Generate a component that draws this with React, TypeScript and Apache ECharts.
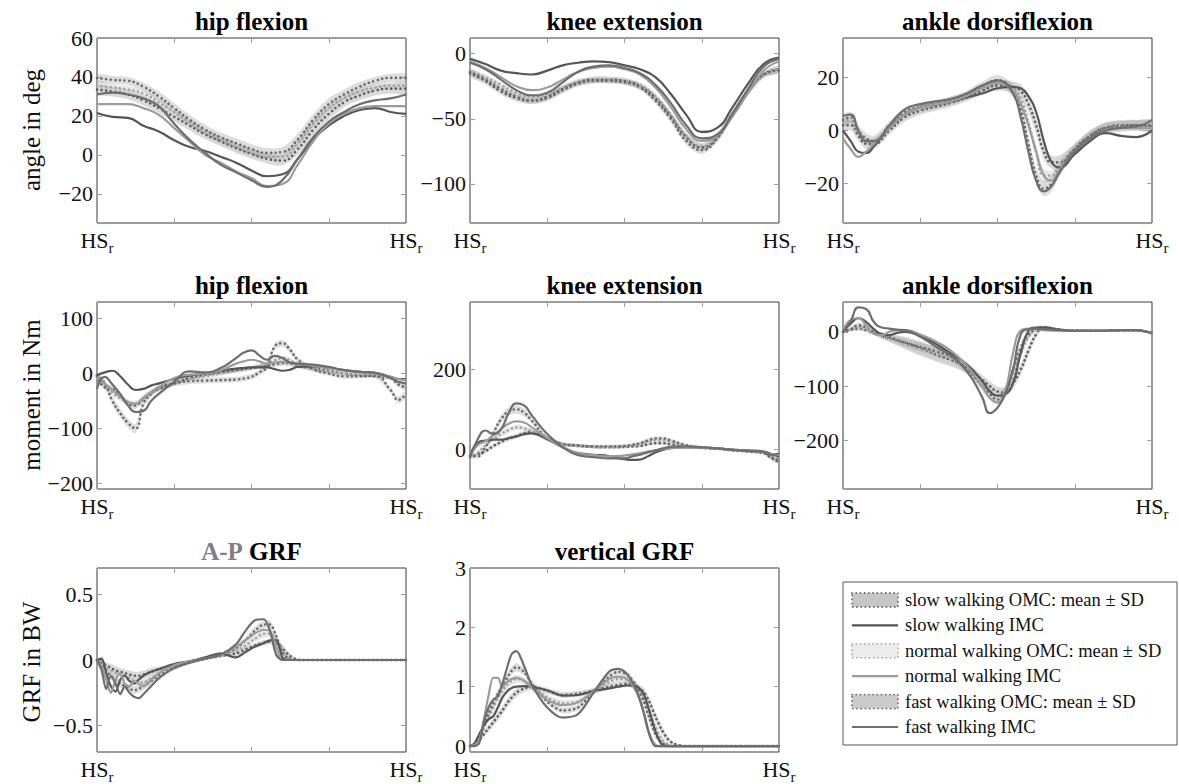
import React, { useEffect, useRef } from 'react';
import * as echarts from 'echarts';

// ---------- x grids (percent of gait cycle, HS_r to HS_r) ----------
const X_ANG = [0, 5, 10, 15, 20, 25, 30, 35, 40, 45, 50, 55, 60, 65, 70, 75, 80, 85, 90, 95, 100];
const X_ANK = [0, 2.5, 5, 7.5, 10, 15, 20, 25, 30, 35, 40, 45, 50, 55, 57.5, 60, 62.5, 65, 67.5, 70, 75, 80, 85, 90, 95, 100];
const X_MOM = [0, 2.5, 5, 7.5, 10, 12.5, 15, 17.5, 20, 25, 30, 35, 40, 45, 47.5, 50, 52.5, 55, 57.5, 60, 62.5, 65, 70, 75, 80, 85, 90, 95, 97.5, 100];
const X_GRF = [0, 1.5, 3, 4.5, 6, 7.5, 9, 10.5, 12, 13.5, 15, 17.5, 20, 25, 30, 35, 40, 45, 48, 51, 54, 56, 58, 60, 62, 64, 66, 70, 80, 90, 100];

const X_TICKS = [0, 25, 50, 75, 100];
const X_END_LABEL = ['HS', 'r'];

const TITLES = ['hip flexion', 'knee extension', 'ankle dorsiflexion', 'hip flexion', 'knee extension', 'ankle dorsiflexion', 'A-P GRF', 'vertical GRF'];
const ROW_NAMES = ['angle in deg', 'moment in Nm', 'GRF in BW'];
const LEGEND_LABELS = [
  'slow walking OMC: mean \u00b1 SD',
  'slow walking IMC',
  'normal walking OMC: mean \u00b1 SD',
  'normal walking IMC',
  'fast walking OMC: mean \u00b1 SD',
  'fast walking IMC',
];

// ---------- y ticks ----------
const Y_TICKS_HIP_ANG = [-20, 0, 20, 40, 60];
const Y_TICKS_KNEE_ANG = [-100, -50, 0];
const Y_TICKS_ANK_ANG = [-20, 0, 20];
const Y_TICKS_HIP_MOM = [-200, -100, 0, 100];
const Y_TICKS_KNEE_MOM = [0, 200];
const Y_TICKS_ANK_MOM = [-200, -100, 0];
const Y_TICKS_AP = [-0.5, 0, 0.5];
const Y_TICKS_VERT = [0, 1, 2, 3];

// ---------- hip flexion angle ----------
const hipAngSlowOMC = [33.5, 32.5, 31, 28, 24, 19.5, 15, 10.5, 7, 3.5, 0.5, -2, -3, 3, 13, 21, 27, 30.5, 33, 34, 34];
const hipAngNormOMC = [35.5, 34.5, 33.5, 31.5, 27, 22, 16.5, 11.5, 7.5, 4, 1, -1, -1, 6, 16, 24, 29, 32.5, 34.5, 35.5, 35.5];
const hipAngFastOMC = [39.5, 38.5, 38, 35, 30, 24, 18, 13, 9, 6, 3, 1, 1.5, 8, 18, 26, 31, 35, 38, 39.5, 39.5];
const hipAngSlowSD = [2.5, 2.5, 2.5, 2.5, 2.5, 2.5, 2.5, 2.5, 2.5, 2.5, 2.5, 2.5, 2.5, 3, 3, 3, 2.5, 2.5, 2.5, 2.5, 2.5];
const hipAngNormSD = [2, 2, 2, 2, 2, 2, 2, 2, 2, 2, 2, 2, 2, 2.5, 2.5, 2.5, 2, 2, 2, 2, 2];
const hipAngFastSD = [2, 2, 2, 2, 2.5, 2.5, 2.5, 2.5, 2.5, 2.5, 2.5, 2.5, 2.5, 3, 3, 3, 2.5, 2.5, 2, 2, 2];
const hipAngSlowIMC = [21.5, 19.5, 19, 15, 12, 7.5, 4, 2, -1, -4, -8, -11, -10, -2, 8, 15, 20, 23, 24, 22, 21];
const hipAngNormIMC = [26, 26, 26, 24, 20.5, 13.7, 6.8, 0, -4, -8.5, -12, -16, -15, -5, 7, 16, 21, 24, 25, 25, 25];
const hipAngFastIMC = [31, 32, 31, 29, 25, 16, 7.7, 1, -5, -9, -13, -16.5, -13, -2, 9, 17, 22, 26, 28, 29, 31];

// ---------- knee extension angle ----------
const kneeAngSlowOMC = [-15, -21, -29, -34, -36, -33, -27, -22, -20, -20, -21, -25, -34, -48, -64, -72, -64, -46, -29, -16, -12];
const kneeAngNormOMC = [-13, -18, -24, -30, -33, -31, -26, -22, -20, -20, -21, -24, -33, -47, -63, -71, -64, -47, -30, -17, -12];
const kneeAngFastOMC = [-14, -20, -27, -33, -36, -34, -28, -23, -21, -21, -22, -26, -36, -50, -67, -74, -65, -46, -29, -16, -13];
const kneeAngSlowSD = [2.5, 2.5, 2.5, 2.5, 2.5, 2.5, 2.5, 2.5, 2.5, 2.5, 2.5, 2.5, 3, 3, 3, 3, 3, 3, 2.5, 2.5, 2.5];
const kneeAngNormSD = [2, 2, 2, 2, 2, 2, 2, 2, 2, 2, 2, 2, 2.5, 2.5, 2.5, 2.5, 2.5, 2.5, 2, 2, 2];
const kneeAngFastSD = [2, 2, 2, 2.5, 2.5, 2.5, 2.5, 2, 2, 2, 2, 2, 2.5, 3, 3, 3, 3, 2.5, 2.5, 2, 2];
const kneeAngSlowIMC = [-4, -8, -13, -15, -16, -13, -9, -7, -6, -6.5, -9, -12, -18, -31, -47, -60, -57, -41, -23, -8, -3];
const kneeAngNormIMC = [-6, -11, -18, -25, -28, -26, -20, -14, -11, -10, -12, -16, -26, -41, -58, -67, -63, -48, -30, -13, -6];
const kneeAngFastIMC = [-7, -12, -20, -28, -32, -30, -22, -14, -10, -9, -11, -15, -24, -38, -55, -65, -62, -46, -27, -10, -4];

// ---------- ankle dorsiflexion angle ----------
const ankAngSlowOMC = [2, 2, -2, -5, -5, 0, 5, 7.5, 9, 10.5, 12.5, 15, 17, 16.5, 15, 10, 2, -8, -12, -12, -7, -2, 1, 2, 2, 1.5];
const ankAngNormOMC = [3, 3.5, -1, -4, -4.5, 1, 6, 8, 9.5, 11, 13, 16, 18, 16, 12, 3, -8, -17, -17, -13, -7, -2, 1, 2, 2, 2];
const ankAngFastOMC = [4, 5, 0, -3, -4, 2, 7, 9, 10, 11.5, 13.5, 16.5, 19, 15, 8, -5, -17, -22, -20, -15, -7, -2, 1, 1.5, 2, 2];
const ankAngSlowSD = [2, 2, 2, 2, 2, 1.5, 1.5, 1.5, 1.5, 1.5, 1.5, 1.5, 2, 2, 2.5, 3, 3, 3, 2.5, 2.5, 2, 2, 2, 2, 2, 2];
const ankAngNormSD = [1.5, 1.5, 1.5, 1.5, 1.5, 1.5, 1.5, 1.5, 1.5, 1.5, 1.5, 1.5, 1.5, 2, 2.5, 2.5, 2.5, 2.5, 2, 2, 1.5, 1.5, 1.5, 1.5, 1.5, 1.5];
const ankAngFastSD = [2, 2, 2, 2, 2, 1.5, 1.5, 1.5, 1.5, 1.5, 1.5, 2, 2, 2.5, 3, 3, 3, 3, 3, 2.5, 2, 2, 2, 2, 2, 2];
const ankAngSlowIMC = [0, -4, -8, -8.5, -6, 1, 6, 9, 10, 11, 12.5, 14, 16, 16.5, 16, 13, 7, -4, -12, -14, -9, -4, -1, -2, -2.5, 0];
const ankAngNormIMC = [-3, -7, -10, -8, -5, 1, 6, 9, 10, 11, 13, 16, 18, 15, 10, 2, -8, -17, -19, -15, -8, -3, 0, 1, 1, 1];
const ankAngFastIMC = [5.5, 6, 0, -4, -4, 2, 8, 10, 11, 12, 14, 17, 19, 14, 5, -8, -19, -23, -21, -16, -8, -3, 0, 1, 1.5, 4];

// ---------- hip flexion moment ----------
const hipMomSlowOMC = [-5, -25, -28, -40, -55, -58, -45, -35, -28, -18, -8, -2, 2, 6, 8, 10, 12, 14, 17, 19, 18, 14, 9, 5, 0, -3, -5, -8, -20, -25];
const hipMomNormOMC = [-2, -20, -35, -45, -52, -55, -45, -35, -28, -18, -10, -5, 0, 5, 7, 10, 14, 18, 24, 28, 24, 15, 8, 3, 0, -2, -3, -8, -15, -18];
const hipMomFastOMC = [-3, -18, -50, -72, -90, -100, -55, -37, -25, -18, -14, -13, -12, -11, -9, -6, 2, 12, 49, 55, 43, 25, 8, 0, -5, -5, -4, -30, -48, -37];
const hipMomSlowSD = [4, 5, 6, 6, 6, 6, 6, 5, 5, 4, 4, 4, 4, 4, 4, 4, 4, 4, 5, 5, 5, 4, 4, 3, 3, 3, 3, 4, 5, 5];
const hipMomNormSD = [4, 5, 5, 5, 5, 5, 5, 5, 4, 4, 4, 4, 4, 4, 4, 4, 4, 5, 5, 5, 5, 4, 4, 3, 3, 3, 3, 4, 4, 4];
const hipMomFastSD = [5, 6, 8, 8, 8, 8, 8, 6, 5, 5, 5, 5, 5, 5, 5, 5, 5, 6, 6, 6, 6, 5, 5, 4, 4, 4, 4, 5, 6, 6];
const hipMomSlowIMC = [-3, 2, 5, -5, -20, -30, -28, -22, -18, -10, -4, 0, 5, 9, 10, 11, 11, 11, 8, 5, 7, 12, 13, 10, 6, 3, 1, -6, -10, -10];
const hipMomNormIMC = [-6, -18, -30, -42, -52, -55, -45, -35, -25, -8, -2, 0, 6, 18, 22, 25, 22, 18, 20, 21, 19, 18, 14, 10, 6, 3, 0, -6, -10, -12];
const hipMomFastIMC = [-28, -6, -20, -37, -58, -70, -68, -50, -37, -15, 4, 2, 10, 28, 38, 42, 33, 25, 32, 28, 20, 18, 16, 12, 6, 3, 1, -8, -15, -18];

// ---------- knee extension moment ----------
const kneeMomSlowOMC = [-20, -12, -5, 8, 18, 27, 33, 40, 43, 28, 13, 9, 6, 5, 5, 6, 7, 8, 12, 15, 15, 12, 6, 3, 1, -3, -6, -10, -22, -32];
const kneeMomNormOMC = [-18, -8, 10, 25, 38, 48, 55, 52, 45, 25, 12, 8, 6, 6, 7, 8, 10, 12, 18, 22, 22, 18, 8, 4, 2, -2, -5, -8, -15, -20];
const kneeMomFastOMC = [-15, -18, 5, 40, 75, 95, 100, 92, 72, 28, 13, 9, 7, 7, 7, 8, 11, 15, 22, 27, 27, 22, 10, 5, 2, -2, -5, -8, -20, -28];
const kneeMomSlowSD = [4, 4, 5, 6, 6, 6, 6, 6, 6, 5, 4, 4, 4, 4, 4, 4, 4, 4, 4, 4, 4, 4, 3, 3, 3, 3, 3, 4, 5, 5];
const kneeMomNormSD = [4, 4, 5, 6, 7, 7, 7, 7, 6, 5, 4, 4, 4, 4, 4, 4, 4, 5, 5, 5, 5, 5, 4, 3, 3, 3, 3, 4, 5, 5];
const kneeMomFastSD = [5, 5, 6, 8, 10, 10, 10, 10, 8, 6, 5, 4, 4, 4, 4, 4, 4, 5, 5, 5, 5, 5, 4, 3, 3, 3, 3, 4, 5, 6];
const kneeMomSlowIMC = [-18, 15, 22, 24, 24, 28, 32, 38, 40, 25, 5, -10, -14, -17, -22, -25, -27, -26, -18, -8, -2, 3, 5, 4, 2, -1, -3, -6, -12, -18];
const kneeMomNormIMC = [-15, 10, 20, 35, 50, 64, 70, 67, 55, 28, 5, -10, -15, -18, -17, -16, -13, -10, -6, -3, 0, 2, 4, 4, 2, -2, -4, -8, -12, -14];
const kneeMomFastIMC = [-20, 25, 47, 38, 50, 90, 115, 110, 85, 38, 5, -15, -20, -23, -23, -23, -18, -14, -8, -3, 2, 6, 7, 5, 2, -2, -4, -7, -14, -10];

// ---------- ankle dorsiflexion moment ----------
const ankMomSlowOMC = [0, 4, 6, 3, -2, -8, -12, -16, -20, -30, -42, -52, -66, -88, -100, -110, -112, -95, -70, -35, -5, 8, 4, 2, 2, 2, 3, 3, 1, -2];
const ankMomNormOMC = [0, 5, 8, 5, -2, -8, -12, -16, -22, -32, -40, -50, -68, -95, -108, -118, -108, -80, -40, -10, 5, 8, 4, 2, 2, 2, 3, 3, 1, -2];
const ankMomFastOMC = [0, 5, 12, 8, 0, -5, -10, -15, -20, -28, -36, -46, -68, -100, -115, -125, -110, -70, -30, -5, 5, 8, 4, 2, 2, 2, 3, 3, 1, -2];
const ankMomSlowSD = [2, 3, 4, 4, 4, 5, 7, 9, 11, 13, 13, 12, 10, 9, 9, 9, 9, 10, 10, 10, 6, 3, 2, 2, 2, 2, 2, 2, 2, 2];
const ankMomNormSD = [2, 3, 4, 4, 4, 5, 7, 9, 10, 12, 12, 12, 10, 9, 9, 9, 9, 10, 10, 8, 5, 3, 2, 2, 2, 2, 2, 2, 2, 2];
const ankMomFastSD = [2, 4, 5, 5, 4, 4, 5, 6, 7, 8, 9, 9, 9, 9, 9, 9, 9, 9, 8, 6, 4, 3, 2, 2, 2, 2, 2, 2, 2, 2];
const ankMomSlowIMC = [0, 15, 25, 18, 5, -4, -6, -2, 0, -8, -22, -40, -60, -90, -110, -118, -115, -95, -40, 2, 8, 8, 4, 2, 2, 2, 3, 3, 1, -2];
const ankMomNormIMC = [0, 22, 25, 12, -4, -6, 0, 3, 3, -5, -18, -35, -62, -100, -122, -130, -110, -40, 2, 6, 5, 3, 2, 2, 2, 2, 3, 3, 1, -2];
const ankMomFastIMC = [0, 20, 45, 42, 18, 8, 6, 4, 3, -9, -27, -45, -72, -120, -150, -140, -115, -70, -5, 5, 6, 5, 3, 2, 2, 2, 3, 3, 1, -3];

// ---------- A-P GRF ----------
const apSlowOMC = [0, -0.02, -0.04, -0.06, -0.08, -0.09, -0.1, -0.11, -0.12, -0.12, -0.11, -0.09, -0.07, -0.04, -0.01, 0.01, 0.03, 0.05, 0.08, 0.11, 0.13, 0.14, 0.13, 0.09, 0.04, 0.01, 0, 0, 0, 0, 0];
const apNormOMC = [0, -0.02, -0.05, -0.08, -0.1, -0.11, -0.12, -0.14, -0.16, -0.17, -0.17, -0.14, -0.1, -0.05, -0.02, 0.01, 0.03, 0.07, 0.11, 0.16, 0.2, 0.2, 0.15, 0.07, 0.02, 0, 0, 0, 0, 0, 0];
const apFastOMC = [0, -0.03, -0.08, -0.12, -0.15, -0.18, -0.2, -0.22, -0.23, -0.22, -0.2, -0.16, -0.12, -0.06, -0.02, 0.01, 0.04, 0.09, 0.15, 0.22, 0.27, 0.27, 0.18, 0.06, 0.01, 0, 0, 0, 0, 0, 0];
const apSlowSD = [0, 0.01, 0.02, 0.03, 0.03, 0.03, 0.03, 0.03, 0.03, 0.03, 0.03, 0.03, 0.02, 0.02, 0.01, 0.01, 0.01, 0.02, 0.02, 0.02, 0.02, 0.02, 0.03, 0.03, 0.02, 0.01, 0, 0, 0, 0, 0];
const apNormSD = [0, 0.01, 0.02, 0.03, 0.03, 0.03, 0.03, 0.03, 0.03, 0.03, 0.03, 0.03, 0.02, 0.02, 0.01, 0.01, 0.01, 0.02, 0.02, 0.02, 0.03, 0.03, 0.03, 0.03, 0.02, 0.01, 0, 0, 0, 0, 0];
const apFastSD = [0, 0.01, 0.02, 0.03, 0.03, 0.03, 0.03, 0.03, 0.03, 0.03, 0.03, 0.03, 0.02, 0.02, 0.01, 0.01, 0.01, 0.02, 0.02, 0.03, 0.03, 0.03, 0.03, 0.03, 0.01, 0, 0, 0, 0, 0, 0];
const apSlowIMC = [0, 0.01, -0.1, -0.2, -0.24, -0.15, -0.12, -0.16, -0.18, -0.15, -0.12, -0.09, -0.07, -0.03, -0.01, 0.02, 0.05, 0.02, 0.06, 0.1, 0.13, 0.15, 0.15, 0.02, 0, 0, 0, 0, 0, 0, 0];
const apNormIMC = [0, -0.05, -0.15, -0.25, -0.15, -0.1, -0.18, -0.2, -0.16, -0.18, -0.2, -0.15, -0.1, -0.04, -0.01, 0.01, 0.04, 0.1, 0.15, 0.2, 0.23, 0.22, 0.1, 0, 0, 0, 0, 0, 0, 0, 0];
const apFastIMC = [0, -0.08, -0.22, -0.12, -0.18, -0.26, -0.2, -0.25, -0.28, -0.29, -0.26, -0.2, -0.14, -0.06, -0.02, 0.01, 0.04, 0.12, 0.22, 0.3, 0.31, 0.22, 0.04, 0, 0, 0, 0, 0, 0, 0, 0];

// ---------- vertical GRF ----------
const vSlowOMC = [0, 0.02, 0.1, 0.2, 0.3, 0.4, 0.5, 0.6, 0.72, 0.82, 0.9, 0.97, 1.0, 0.93, 0.86, 0.88, 0.93, 1.0, 1.03, 1.05, 1.0, 0.92, 0.75, 0.5, 0.28, 0.12, 0.04, 0, 0, 0, 0];
const vNormOMC = [0, 0.02, 0.12, 0.3, 0.48, 0.64, 0.8, 0.93, 1.03, 1.1, 1.13, 1.1, 1.0, 0.82, 0.72, 0.75, 0.92, 1.08, 1.13, 1.12, 1.0, 0.85, 0.6, 0.32, 0.12, 0.03, 0, 0, 0, 0, 0];
const vFastOMC = [0, 0.02, 0.15, 0.35, 0.55, 0.72, 0.88, 1.02, 1.15, 1.27, 1.33, 1.25, 1.05, 0.75, 0.6, 0.65, 0.92, 1.17, 1.25, 1.2, 1.0, 0.78, 0.48, 0.2, 0.06, 0.01, 0, 0, 0, 0, 0];
const vSlowSD = [0, 0.01, 0.03, 0.05, 0.06, 0.07, 0.07, 0.07, 0.07, 0.07, 0.07, 0.06, 0.05, 0.05, 0.05, 0.05, 0.05, 0.05, 0.05, 0.05, 0.06, 0.07, 0.08, 0.08, 0.07, 0.05, 0.02, 0, 0, 0, 0];
const vNormSD = [0, 0.01, 0.03, 0.05, 0.06, 0.07, 0.07, 0.07, 0.07, 0.07, 0.07, 0.06, 0.05, 0.05, 0.05, 0.05, 0.05, 0.05, 0.05, 0.05, 0.06, 0.07, 0.08, 0.08, 0.06, 0.03, 0.01, 0, 0, 0, 0];
const vFastSD = [0, 0.01, 0.03, 0.05, 0.06, 0.07, 0.07, 0.07, 0.07, 0.07, 0.07, 0.06, 0.05, 0.05, 0.05, 0.05, 0.05, 0.05, 0.05, 0.05, 0.06, 0.07, 0.08, 0.07, 0.04, 0.01, 0, 0, 0, 0, 0];
const vSlowIMC = [0, 0.05, 0.2, 0.35, 0.45, 0.5, 0.65, 0.82, 0.92, 0.98, 1.0, 1.01, 1.0, 0.94, 0.85, 0.86, 0.93, 0.97, 1.0, 1.02, 1.0, 0.9, 0.6, 0.25, 0.03, 0, 0, 0, 0, 0, 0];
const vNormIMC = [0, 0.02, 0.1, 0.45, 0.85, 1.15, 1.15, 1.0, 1.08, 1.13, 1.15, 1.1, 0.98, 0.78, 0.69, 0.74, 0.92, 1.13, 1.17, 1.12, 0.9, 0.62, 0.22, 0.02, 0, 0, 0, 0, 0, 0, 0];
const vFastIMC = [0, 0, 0.05, 0.42, 0.65, 0.78, 0.84, 1.05, 1.32, 1.55, 1.6, 1.35, 1.03, 0.65, 0.48, 0.54, 0.9, 1.25, 1.3, 1.2, 0.92, 0.6, 0.2, 0, 0, 0, 0, 0, 0, 0, 0];

// ---------- panel table ----------
const PANELS = [
  { x: X_ANG, yMin: -35, yMax: 60, ticks: Y_TICKS_HIP_ANG, smooth: 0.5, omc: [hipAngSlowOMC, hipAngNormOMC, hipAngFastOMC], sd: [hipAngSlowSD, hipAngNormSD, hipAngFastSD], imc: [hipAngSlowIMC, hipAngNormIMC, hipAngFastIMC] },
  { x: X_ANG, yMin: -130, yMax: 12, ticks: Y_TICKS_KNEE_ANG, smooth: 0.5, omc: [kneeAngSlowOMC, kneeAngNormOMC, kneeAngFastOMC], sd: [kneeAngSlowSD, kneeAngNormSD, kneeAngFastSD], imc: [kneeAngSlowIMC, kneeAngNormIMC, kneeAngFastIMC] },
  { x: X_ANK, yMin: -35, yMax: 35, ticks: Y_TICKS_ANK_ANG, smooth: 0.5, omc: [ankAngSlowOMC, ankAngNormOMC, ankAngFastOMC], sd: [ankAngSlowSD, ankAngNormSD, ankAngFastSD], imc: [ankAngSlowIMC, ankAngNormIMC, ankAngFastIMC] },
  { x: X_MOM, yMin: -210, yMax: 130, ticks: Y_TICKS_HIP_MOM, smooth: 0.5, omc: [hipMomSlowOMC, hipMomNormOMC, hipMomFastOMC], sd: [hipMomSlowSD, hipMomNormSD, hipMomFastSD], imc: [hipMomSlowIMC, hipMomNormIMC, hipMomFastIMC] },
  { x: X_MOM, yMin: -100, yMax: 370, ticks: Y_TICKS_KNEE_MOM, smooth: 0.5, omc: [kneeMomSlowOMC, kneeMomNormOMC, kneeMomFastOMC], sd: [kneeMomSlowSD, kneeMomNormSD, kneeMomFastSD], imc: [kneeMomSlowIMC, kneeMomNormIMC, kneeMomFastIMC] },
  { x: X_MOM, yMin: -290, yMax: 55, ticks: Y_TICKS_ANK_MOM, smooth: 0.5, omc: [ankMomSlowOMC, ankMomNormOMC, ankMomFastOMC], sd: [ankMomSlowSD, ankMomNormSD, ankMomFastSD], imc: [ankMomSlowIMC, ankMomNormIMC, ankMomFastIMC] },
  { x: X_GRF, yMin: -0.7, yMax: 0.7, ticks: Y_TICKS_AP, smooth: 0.3, omc: [apSlowOMC, apNormOMC, apFastOMC], sd: [apSlowSD, apNormSD, apFastSD], imc: [apSlowIMC, apNormIMC, apFastIMC] },
  { x: X_GRF, yMin: -0.1, yMax: 3, ticks: Y_TICKS_VERT, smooth: 0.3, omc: [vSlowOMC, vNormOMC, vFastOMC], sd: [vSlowSD, vNormSD, vFastSD], imc: [vSlowIMC, vNormIMC, vFastIMC] },
];

// ---------- styling / layout ----------
const FONT = 'Liberation Serif, DejaVu Serif, serif';
const COL_LEFT = [97, 470, 843];
const COL_W = 309;
const ROW_TOP = [38, 302, 568];
const ROW_H = [185, 187, 185];
const TITLE_Y = [21, 285, 551];
const ROW_NAME_Y = [130, 395, 662];
const LINE_COLORS = ['#565656', '#9c9c9c', '#6e6e6e'];
const DOT_COLORS = ['#5e5e5e', '#a2a2a2', '#6a6a6a'];
const BAND_COLORS = ['rgba(140,140,140,0.32)', 'rgba(195,195,195,0.40)', 'rgba(150,150,150,0.32)'];
const LEG_FILL = ['#c6c6c6', '#ececec', '#cbcbcb'];
const LEG_STROKE = ['#666666', '#a6a6a6', '#6a6a6a'];

const fmtY = (v: number) => (v < 0 ? '\u2212' + String(Math.abs(v)) : String(v));

function buildOption() {
  const grid: any[] = [];
  const xAxis: any[] = [];
  const yAxis: any[] = [];
  const series: any[] = [];
  const graphic: any[] = [];

  const tick = { show: true, inside: true, length: 5, lineStyle: { color: '#9e9e9e', width: 1 } };
  const noLine = { show: false, onZero: false };

  PANELS.forEach((p, i) => {
    const r = Math.floor(i / 3);
    const c = i % 3;
    grid.push({
      left: COL_LEFT[c], top: ROW_TOP[r], width: COL_W, height: ROW_H[r],
      show: true, borderColor: '#3a3a3a', borderWidth: 1, backgroundColor: 'transparent', containLabel: false,
    });
    graphic.push({
      type: 'text', x: COL_LEFT[c] + COL_W / 2, y: TITLE_Y[r], silent: true,
      style: i === 6
        ? { text: '{g|A-P} {k|GRF}', rich: { g: { fontFamily: FONT, fontWeight: 'bold', fontSize: 25, fill: '#808080' }, k: { fontFamily: FONT, fontWeight: 'bold', fontSize: 25, fill: '#000' } }, align: 'center', verticalAlign: 'middle', fontFamily: FONT, fontWeight: 'bold', fontSize: 25 }
        : { text: TITLES[i], fontFamily: FONT, fontWeight: 'bold', fontSize: 25, fill: '#000', align: 'center', verticalAlign: 'middle' },
    });
  });

  // bottom x axes
  PANELS.forEach((p, i) => {
    xAxis.push({
      type: 'value', gridIndex: i, min: 0, max: 100, interval: 25, position: 'bottom',
      axisLine: noLine, splitLine: { show: false }, axisTick: { ...tick, customValues: X_TICKS },
      axisLabel: {
        show: true, margin: 6, customValues: [X_TICKS[0], X_TICKS[X_TICKS.length - 1]],
        formatter: () => `{m|${X_END_LABEL[0]}}{s|${X_END_LABEL[1]}}`,
        rich: {
          m: { fontFamily: FONT, fontSize: 22, color: '#111', verticalAlign: 'top' },
          s: { fontFamily: FONT, fontSize: 15, color: '#111', verticalAlign: 'top', padding: [11, 0, 0, 0] },
        },
      },
    });
  });
  // top x axes (ticks only)
  PANELS.forEach((p, i) => {
    xAxis.push({
      type: 'value', gridIndex: i, min: 0, max: 100, interval: 25, position: 'top',
      axisLine: noLine, splitLine: { show: false }, axisTick: { ...tick, customValues: X_TICKS }, axisLabel: { show: false },
    });
  });
  // left y axes
  PANELS.forEach((p, i) => {
    yAxis.push({
      type: 'value', gridIndex: i, min: p.yMin, max: p.yMax, position: 'left',
      axisLine: noLine, splitLine: { show: false },
      axisTick: { ...tick, customValues: p.ticks },
      axisLabel: { show: true, customValues: p.ticks, formatter: fmtY, fontFamily: FONT, fontSize: 22, color: '#111', margin: 4 },
    });
  });
  // right y axes (ticks only)
  PANELS.forEach((p, i) => {
    yAxis.push({
      type: 'value', gridIndex: i, min: p.yMin, max: p.yMax, position: 'right',
      axisLine: noLine, splitLine: { show: false },
      axisTick: { ...tick, customValues: p.ticks }, axisLabel: { show: false },
    });
  });

  PANELS.forEach((p, i) => {
    const base = { xAxisIndex: i, yAxisIndex: i, silent: true, animation: false };
    // OMC bands: mean +- SD, drawn as polygons through the axes' scales
    [0, 1, 2].forEach((s) => {
      const bandData = p.x.map((x, k) => [x, p.omc[s][k] - p.sd[s][k], p.omc[s][k] + p.sd[s][k]]);
      series.push({
        ...base, type: 'custom', clip: true, z: 1,
        encode: { x: 0, y: [1, 2] },
        data: bandData,
        renderItem: (params: any, api: any) => {
          if (params.dataIndex !== 0) return null;
          const upper = bandData.map((d) => api.coord([d[0], d[2]]));
          const lower = bandData.map((d) => api.coord([d[0], d[1]])).reverse();
          return {
            type: 'polygon',
            shape: { points: upper.concat(lower), smooth: p.smooth * 0.6 },
            style: { fill: BAND_COLORS[s], stroke: 'none' },
          };
        },
      });
    });
    // OMC means (dotted)
    [0, 1, 2].forEach((s) => {
      series.push({
        ...base, type: 'line', symbol: 'none', smooth: p.smooth,
        data: p.x.map((x, k) => [x, p.omc[s][k]]),
        lineStyle: { color: DOT_COLORS[s], width: 2.6, type: [0.01, 4.6], cap: 'round' }, z: 2,
      });
    });
    // IMC solid
    [0, 1, 2].forEach((s) => {
      series.push({
        ...base, type: 'line', symbol: 'none', smooth: p.smooth,
        data: p.x.map((x, k) => [x, p.imc[s][k]]),
        lineStyle: { color: LINE_COLORS[s], width: 2.2 }, z: 3,
      });
    });
  });

  // row y names
  ROW_NAMES.forEach((name, r) => {
    graphic.push({
      type: 'text', x: 31, y: ROW_NAME_Y[r], rotation: Math.PI / 2, silent: true,
      style: { text: name, fontFamily: FONT, fontSize: 25, fill: '#111', align: 'center', verticalAlign: 'middle' },
    });
  });

  // legend
  const LX = 843, LY = 582, LW = 334, LH = 163;
  graphic.push({ type: 'rect', shape: { x: LX, y: LY, width: LW, height: LH }, style: { fill: '#fff', stroke: '#555', lineWidth: 1 }, silent: true, z: 10 });
  LEGEND_LABELS.forEach((label, j) => {
    const cy = LY + 18 + j * 25.4;
    const s = Math.floor(j / 2);
    if (j % 2 === 0) {
      graphic.push({
        type: 'rect', shape: { x: LX + 9, y: cy - 7, width: 46, height: 14 }, silent: true, z: 11,
        style: { fill: LEG_FILL[s], stroke: LEG_STROKE[s], lineWidth: 1.8, lineDash: [0.01, 4.2], lineCap: 'round' },
      });
    } else {
      graphic.push({
        type: 'line', shape: { x1: LX + 9, y1: cy, x2: LX + 55, y2: cy }, silent: true, z: 11,
        style: { stroke: LINE_COLORS[s], lineWidth: 2.2 },
      });
    }
    graphic.push({
      type: 'text', x: LX + 62, y: cy, silent: true, z: 11,
      style: { text: label, fontFamily: FONT, fontSize: 18.5, fill: '#111', align: 'left', verticalAlign: 'middle' },
    });
  });

  return { animation: false, backgroundColor: '#fff', grid, xAxis, yAxis, series, graphic };
}

export default function App() {
  const ref = useRef<HTMLDivElement>(null);
  useEffect(() => {
    if (!ref.current) return;
    const chart = echarts.init(ref.current, null, { renderer: 'svg' });
    chart.setOption(buildOption());
    return () => chart.dispose();
  }, []);
  return <div ref={ref} style={{ position: 'fixed', left: 0, top: 0, width: 1179, height: 784, background: '#fff' }} />;
}
